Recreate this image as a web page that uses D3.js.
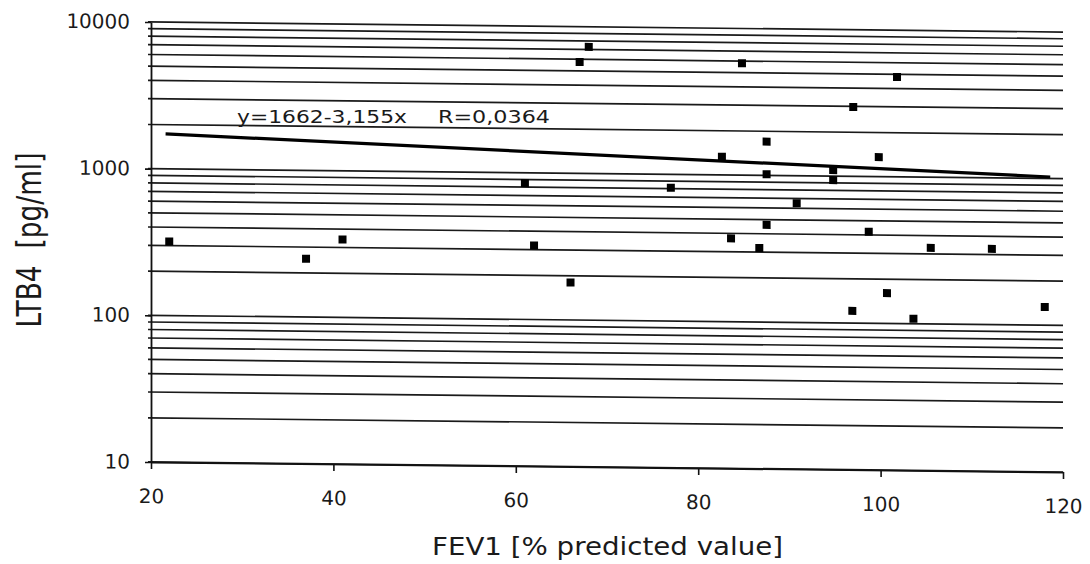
<!DOCTYPE html>
<html lang="en">
  <head>
    <meta charset="utf-8">
    <title>LTB4 vs FEV1</title>
    <script src="https://d3js.org/d3.v7.min.js" charset="utf-8"></script>
    <style>
      body { margin: 0; background: white; }
      text { font-family: "DejaVu Sans", sans-serif; fill: #1a1a1a; }
    </style>
  </head>
  <body>
    <script>
      // data
      var xTicks = [20, 40, 60, 80, 100, 120];
      var yTicks = [10, 100, 1000, 10000];
      var fev1 = [22, 37, 41, 61, 62, 66, 67, 68, 77, 82.6, 83.6, 84.8, 86.7, 87.5, 87.5, 87.5,
                  90.8, 94.8, 94.8, 96.9, 97, 98.7, 99.8, 100.7, 101.8, 103.6, 105.5, 112.2, 118];
      var ltb4 = [320, 250, 340, 850, 320, 180, 5750, 7300, 810, 1330, 370, 5800, 320, 1700, 1020, 460,
                  650, 1100, 940, 121, 2970, 420, 1360, 161, 4800, 108, 330, 328, 133];
      var fitX = [21.6, 118.6];
      var fitY = [1730, 1025];
      var fitLabel = "y=1662-3,155x";
      var rLabel = "R=0,0364";
      var xTitle = "FEV1 [% predicted value]";
      var yTitle = "LTB4  [pg/ml]";

      var width = 1090,
          height = 564;

      var svg = d3.select("body").append("svg")
        .attr("width", width)
        .attr("height", height);

      var x = d3.scaleLinear().domain([20, 120]).range([151, 1063]);
      var y = d3.scaleLog().domain([10, 10000]).range([462, 22]);

      // the scan is slightly tilted: everything in the plot drifts down to the right
      var plot = svg.append("g")
        .attr("transform", "translate(151,0) skewY(0.63) translate(-151,0)");

      // log grid (every minor value), the 10 line doubles as x axis
      plot.append("g")
        .selectAll("line")
        .data(y.ticks())
        .enter().append("line")
        .attr("x1", x(20) - 3)
        .attr("x2", x(120))
        .attr("y1", function(d) { return y(d); })
        .attr("y2", function(d) { return y(d); })
        .style("stroke", "#1a1a1a")
        .style("stroke-width", 1.7);

      var xAxis = plot.append("g")
        .attr("transform", "translate(0," + y(10) + ")")
        .call(d3.axisBottom(x).tickValues(xTicks).tickSize(7).tickSizeOuter(0).tickPadding(20));

      var yAxis = plot.append("g")
        .attr("transform", "translate(" + x(20) + ",0)")
        .call(d3.axisLeft(y).tickValues(yTicks).tickFormat(d3.format("d"))
          .tickSize(6).tickSizeOuter(0).tickPadding(15));

      [xAxis, yAxis].forEach(function(a) {
        a.select(".domain").style("stroke", "#111").style("stroke-width", 1.8);
        a.selectAll(".tick line").style("stroke", "#111").style("stroke-width", 1.6);
        a.selectAll("text")
          .style("font-family", "'DejaVu Sans', sans-serif")
          .style("font-size", "20px")
          .style("fill", "#1a1a1a");
      });

      // regression line
      plot.append("line")
        .attr("x1", x(fitX[0]))
        .attr("y1", y(fitY[0]))
        .attr("x2", x(fitX[1]))
        .attr("y2", y(fitY[1]))
        .style("stroke", "#000")
        .style("stroke-width", 3.2);

      // data points
      var pts = fev1.map(function(v, i) { return [v, ltb4[i]]; });
      plot.append("g")
        .selectAll("rect")
        .data(pts)
        .enter().append("rect")
        .attr("x", function(d) { return x(d[0]) - 4; })
        .attr("y", function(d) { return y(d[1]) - 4; })
        .attr("width", 8)
        .attr("height", 8)
        .style("fill", "#000");

      // equation labels
      svg.append("text")
        .attr("x", 237).attr("y", 123)
        .attr("textLength", 170).attr("lengthAdjust", "spacingAndGlyphs")
        .style("font-size", "18px")
        .text(fitLabel);

      svg.append("text")
        .attr("x", 438).attr("y", 123)
        .attr("textLength", 112).attr("lengthAdjust", "spacingAndGlyphs")
        .style("font-size", "18px")
        .text(rLabel);

      // axis titles
      svg.append("text")
        .attr("x", 432).attr("y", 555)
        .attr("textLength", 351).attr("lengthAdjust", "spacingAndGlyphs")
        .style("font-size", "24px")
        .text(xTitle);

      svg.append("text")
        .attr("transform", "translate(41,240) rotate(-90)")
        .attr("text-anchor", "middle")
        .attr("textLength", 175).attr("lengthAdjust", "spacingAndGlyphs")
        .style("font-size", "33px")
        .style("white-space", "pre")
        .text(yTitle);
    </script>
  </body>
</html>
